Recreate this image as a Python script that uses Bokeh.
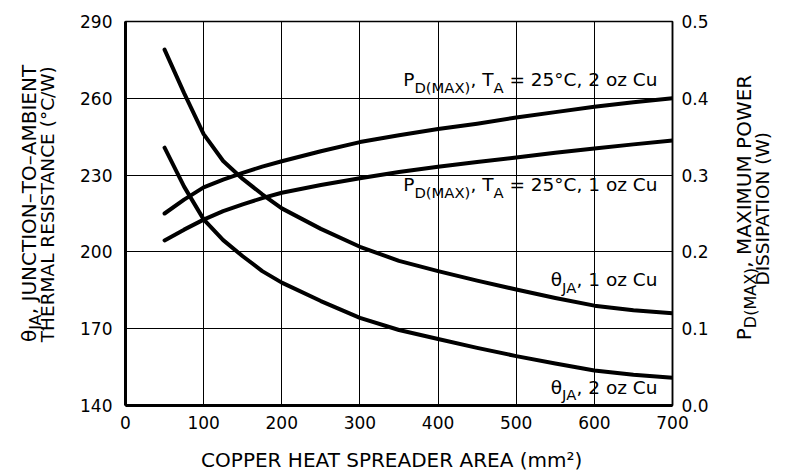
import math
from bokeh.plotting import figure
from bokeh.models import Range1d, LinearAxis, Label, FixedTicker, PrintfTickFormatter
from bokeh.layouts import row, column
from bokeh.embed import file_html
from bokeh.resources import INLINE

# ---------------- data ----------------
area = [50, 75, 100, 125, 150, 175, 200, 250, 300, 350, 400, 450, 500, 550, 600, 650, 700]
theta_1oz = [279.0, 262.0, 246.0, 235.5, 228.5, 222.5, 217.0, 209.0, 202.0, 196.5, 192.5,
             188.8, 185.3, 182.0, 179.0, 177.2, 176.0]
theta_2oz = [240.7, 225.5, 212.7, 204.6, 198.3, 192.5, 188.0, 180.8, 174.2, 169.5, 166.0,
             162.5, 159.3, 156.4, 153.7, 152.0, 150.8]
pd_2oz = [0.250, 0.268, 0.284, 0.294, 0.303, 0.311, 0.318, 0.331, 0.343, 0.352, 0.360,
          0.367, 0.375, 0.382, 0.389, 0.395, 0.400]
pd_1oz = [0.215, 0.229, 0.242, 0.253, 0.262, 0.270, 0.277, 0.287, 0.296, 0.304, 0.311,
          0.317, 0.323, 0.329, 0.3345, 0.340, 0.345]

x_ticks = [0, 100, 200, 300, 400, 500, 600, 700]
y_ticks = [140, 170, 200, 230, 260, 290]
pd_ticks = [0.0, 0.1, 0.2, 0.3, 0.4, 0.5]

x_title = "COPPER HEAT SPREADER AREA (mm²)"
left_title_1 = [("θ", 0), ("JA", 1), (", JUNCTION–TO–AMBIENT", 0)]
left_title_2 = "THERMAL RESISTANCE (°C/W)"
right_title_1 = [("P", 0), ("D(MAX)", 1), (", MAXIMUM POWER", 0)]
right_title_2 = "DISSIPATION (W)"
ann_pd_2oz = [("P", 0), ("D(MAX)", 1), (", T", 0), ("A", 1), (" = 25°C, 2 oz Cu", 0)]
ann_pd_1oz = [("P", 0), ("D(MAX)", 1), (", T", 0), ("A", 1), (" = 25°C, 1 oz Cu", 0)]
ann_th_1oz = [("θ", 0), ("JA", 1), (", 1 oz Cu", 0)]
ann_th_2oz = [("θ", 0), ("JA", 1), (", 2 oz Cu", 0)]

# ---------------- layout constants (pixels) ----------------
FONT = "DejaVu Sans"
TOTAL_W, TOTAL_H = 784, 474
LW_FIG = 65          # left title panel width
RW_FIG = 54          # right title panel width
TOP_H = 440          # height of the row holding the chart
BOT_H = TOTAL_H - TOP_H
MW = TOTAL_W - LW_FIG - RW_FIG
BL, BR, BT = 60, 58, 21
FW = MW - BL - BR
FH = 384
BB = TOP_H - BT - FH

TICK_SIZE = "17px"
ANN = 18.5
TT = 20
TT2 = 18.5

# ---------------- text helpers ----------------
WID = {' ': 651, '(': 799, ')': 799, ',': 651, '–': 1024, '/': 690, '=': 1716, '°': 1024,
       '²': 821, 'A': 1401, 'B': 1405, 'C': 1430, 'D': 1577, 'E': 1294, 'H': 1540, 'I': 604,
       'J': 604, 'L': 1141, 'M': 1767, 'N': 1532, 'O': 1612, 'P': 1235, 'R': 1423, 'S': 1300,
       'T': 1251, 'U': 1499, 'W': 2025, 'X': 1403, 'o': 1253, 'u': 1298, 'z': 1075, 'm': 1995,
       'θ': 1255}


def tw(s, size):
    return sum(WID.get(c, 1303 if c.isdigit() else 1250) for c in s) / 2048.0 * size


SUB_SCALE = 0.8
BASE_FIX = 0.41      # observed drop of Label text below its anchor, in em


def rich(put, segs, size, px, py, align="left", vertical=False, sub_shift=0.32):
    """Text with subscripts; (px, py) = baseline point in local pixels (top-left origin)."""
    widths = [tw(t, size * (SUB_SCALE if sub else 1.0)) for t, sub in segs]
    total = sum(widths)
    cum = {"left": 0.0, "right": -total, "center": -total / 2}[align]
    for (t, sub), w in zip(segs, widths):
        s = size * (SUB_SCALE if sub else 1.0)
        sh = (size * sub_shift if sub else 0.0) - BASE_FIX * s
        lead = tw(" " * (len(t) - len(t.lstrip(" "))), s)
        txt = t.strip(" ")
        if txt:
            if vertical:
                put(txt, s, px + sh, py - (cum + lead), math.pi / 2)
            else:
                put(txt, s, px + cum + lead, py + sh, 0.0)
        cum += w
    return total


def panel(w, h, top=0, bottom=0):
    # frame spans local rows top .. h-bottom; data y = h - local y
    f = figure(width=w, height=h, output_backend="svg", toolbar_location=None, title=None,
               x_range=Range1d(0, w), y_range=Range1d(bottom, h - top),
               x_axis_location=None, y_axis_location=None,
               min_border=0, min_border_left=0, min_border_right=0,
               min_border_top=top, min_border_bottom=bottom,
               background_fill_color="white", border_fill_color="white")
    f.outline_line_color = None
    f.xgrid.visible = False
    f.ygrid.visible = False

    def put(text, size, x, y, angle=0.0, align="left"):
        f.add_layout(Label(x=x, y=h - y, text=text, text_font=FONT,
                           text_font_size=f"{size:.2f}px", text_color="black",
                           text_baseline="alphabetic", text_align=align, angle=angle))
    return f, put


# ---------------- main chart ----------------
p = figure(width=MW, height=TOP_H, output_backend="svg", toolbar_location=None,
           x_range=Range1d(x_ticks[0], x_ticks[-1]), y_range=Range1d(y_ticks[0], y_ticks[-1]),
           min_border_left=BL, min_border_right=BR, min_border_top=BT, min_border_bottom=BB,
           background_fill_color="white", border_fill_color="white")
p.extra_y_ranges = {"pd": Range1d(pd_ticks[0], pd_ticks[-1])}
p.outline_line_color = "black"
p.outline_line_width = 1.5

r_axis = LinearAxis(y_range_name="pd", ticker=FixedTicker(ticks=pd_ticks),
                    formatter=PrintfTickFormatter(format="%.1f"))
p.add_layout(r_axis, "right")

for ax in (p.xaxis[0], p.yaxis[0], r_axis):
    ax.axis_line_color = "black"
    ax.major_tick_line_color = None
    ax.minor_tick_line_color = None
    ax.major_tick_out = 0
    ax.major_tick_in = 0
    ax.minor_tick_out = 0
    ax.minor_tick_in = 0
    ax.major_label_text_font = FONT
    ax.major_label_text_font_size = TICK_SIZE
    ax.major_label_text_color = "black"
p.xaxis[0].axis_line_width = 3
p.yaxis[0].axis_line_width = 3
r_axis.axis_line_width = 1.5

p.xaxis[0].ticker = FixedTicker(ticks=x_ticks)
p.yaxis[0].ticker = FixedTicker(ticks=y_ticks)
p.xaxis[0].major_label_standoff = 10
p.yaxis[0].major_label_standoff = 13
r_axis.major_label_standoff = 9

p.xgrid.ticker = FixedTicker(ticks=x_ticks)
p.ygrid.ticker = FixedTicker(ticks=y_ticks)
for g in (p.xgrid[0], p.ygrid[0]):
    g.grid_line_color = "black"
    g.grid_line_width = 1
    g.grid_line_alpha = 1.0

for ys, rng in ((theta_1oz, "default"), (theta_2oz, "default"), (pd_2oz, "pd"), (pd_1oz, "pd")):
    p.line(area, ys, y_range_name=rng, line_width=4, line_color="black",
           line_join="round", line_cap="round")


def put_main(text, size, x, y, angle=0.0, align="left"):
    # x, y: local pixels of the main figure; anchored at the frame's bottom-left corner
    p.add_layout(Label(x=x_ticks[0], y=y_ticks[0], x_offset=x - BL, y_offset=(BT + FH) - y,
                       text=text, text_font=FONT, text_font_size=f"{size:.2f}px",
                       text_color="black", text_baseline="alphabetic", text_align=align,
                       angle=angle))


right_edge = BL + FW - 15
rich(put_main, ann_pd_2oz, ANN, right_edge, 87, "right")
rich(put_main, ann_pd_1oz, ANN, right_edge, 192, "right")
rich(put_main, ann_th_1oz, ANN, right_edge, 287, "right")
rich(put_main, ann_th_2oz, ANN, right_edge, 394.5, "right")

# ---------------- title panels ----------------
left_p, put_left = panel(LW_FIG, TOP_H, BT, BB)
rich(put_left, left_title_1, TT, 36.5, 203, "center", vertical=True, sub_shift=0.25)
rich(put_left, [(left_title_2, 0)], TT2, 54.5, 203, "center", vertical=True)

right_p, put_right = panel(RW_FIG, TOP_H, BT, BB)
rich(put_right, right_title_1, TT, 22, 207, "center", vertical=True, sub_shift=0.25)
rich(put_right, [(right_title_2, 0)], TT2, 40, 207, "center", vertical=True)

bottom_p, put_bottom = panel(TOTAL_W, BOT_H)
rich(put_bottom, [(x_title, 0)], TT, 392, 28, "center")

layout = column(row(left_p, p, right_p, spacing=0), bottom_p, spacing=0)

open("out.html", "w").write(file_html(layout, INLINE))
